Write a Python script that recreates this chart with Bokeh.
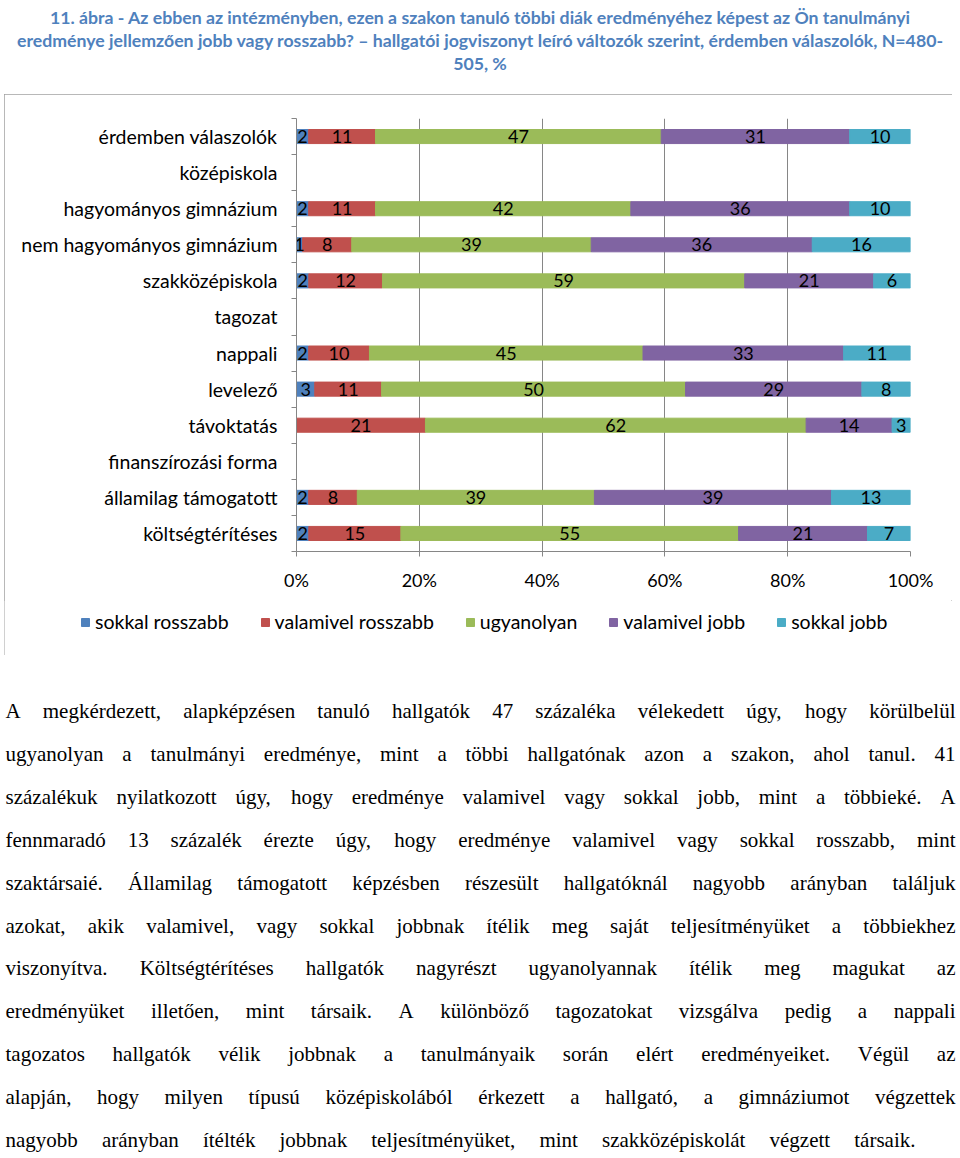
import unicodedata
from bokeh.plotting import figure
from bokeh.models import (ColumnDataSource, FixedTicker, NumeralTickFormatter, Legend,
                          LegendItem, Range1d, Div)
from bokeh.layouts import column
from bokeh.core.properties import value
from bokeh.embed import file_html
from bokeh.resources import INLINE

title_lines = [
    "11. ábra - Az ebben az intézményben, ezen a szakon tanuló többi diák eredményéhez képest az Ön tanulmányi",
    "eredménye jellemzően jobb vagy rosszabb? – hallgatói jogviszonyt leíró változók szerint, érdemben válaszolók, N=480-",
    "505, %",
]

categories = ["érdemben válaszolók", "középiskola", "hagyományos gimnázium",
              "nem hagyományos gimnázium", "szakközépiskola", "tagozat", "nappali",
              "levelező", "távoktatás", "finanszírozási forma", "államilag támogatott",
              "költségtérítéses"]
series = ["sokkal rosszabb", "valamivel rosszabb", "ugyanolyan", "valamivel jobb", "sokkal jobb"]
sokkal_rosszabb = [2, 0, 2, 1, 2, 0, 2, 3, 0, 0, 2, 2]
valamivel_rosszabb = [11, 0, 11, 8, 12, 0, 10, 11, 21, 0, 8, 15]
ugyanolyan = [47, 0, 42, 39, 59, 0, 45, 50, 62, 0, 39, 55]
valamivel_jobb = [31, 0, 36, 36, 21, 0, 33, 29, 14, 0, 39, 21]
sokkal_jobb = [10, 0, 10, 16, 6, 0, 11, 8, 3, 0, 13, 7]
colors = ["#4F81BD", "#C0504D", "#9BBB59", "#8064A2", "#4BACC6"]
x_ticks = [0, 0.2, 0.4, 0.6, 0.8, 1.0]

paragraph_lines = [
    "A megkérdezett, alapképzésen tanuló hallgatók 47 százaléka vélekedett úgy, hogy körülbelül",
    "ugyanolyan a tanulmányi eredménye, mint a többi hallgatónak azon a szakon, ahol tanul. 41",
    "százalékuk nyilatkozott úgy, hogy eredménye valamivel vagy sokkal jobb, mint a többieké. A",
    "fennmaradó 13 százalék érezte úgy, hogy eredménye valamivel vagy sokkal rosszabb, mint",
    "szaktársaié. Államilag támogatott képzésben részesült hallgatóknál nagyobb arányban találjuk",
    "azokat, akik valamivel, vagy sokkal jobbnak ítélik meg saját teljesítményüket a többiekhez",
    "viszonyítva. Költségtérítéses hallgatók nagyrészt ugyanolyannak ítélik meg magukat az",
    "eredményüket illetően, mint társaik. A különböző tagozatokat vizsgálva pedig a nappali",
    "tagozatos hallgatók vélik jobbnak a tanulmányaik során elért eredményeiket. Végül az",
    "alapján, hogy milyen típusú középiskolából érkezett a hallgató, a gimnáziumot végzettek",
    "nagyobb arányban ítélték jobbnak teljesítményüket, mint szakközépiskolát végzett társaik.",
]

FONT = "Lato"
FS = "18px"
LFS = "19.5px"
GRAY = "#868686"

all_series = [sokkal_rosszabb, valamivel_rosszabb, ugyanolyan, valamivel_jobb, sokkal_jobb]
n = len(categories)
totals = [sum(s[i] for s in all_series) for i in range(n)]
ys = [i + 0.5 for i in range(n)]
data = {"y": ys}
keys = []
for k, s in enumerate(all_series):
    key = f"s{k}"
    keys.append(key)
    data[key] = [(s[i] / totals[i]) if totals[i] else 0 for i in range(n)]
src = ColumnDataSource(data)

# label positions (segment centres)
lx, ly, lt = [], [], []
for i in range(n):
    cum = 0.0
    for k, s in enumerate(all_series):
        share = data[keys[k]][i]
        if s[i] > 0:
            lx.append(cum + share / 2)
            ly.append(ys[i])
            lt.append(str(s[i]))
        cum += share
lsrc = ColumnDataSource(dict(x=lx, y=ly, t=lt))

# ---- chart figure
p = figure(width=948, height=506, x_range=Range1d(0, 1), y_range=Range1d(n, 0),
           output_backend="svg", toolbar_location=None,
           min_border_left=292, min_border_right=42, min_border_top=24, min_border_bottom=49)
p.frame_align = False
p.outline_line_color = None

rs = p.hbar_stack(keys, y="y", height=0.39, color=colors, source=src)

p.text(x="x", y="y", text="t", source=lsrc, text_align="center", text_baseline="middle",
       text_font=value(FONT), text_font_size=FS, text_color="#000000")

p.xaxis.ticker = FixedTicker(ticks=x_ticks)
p.xaxis.formatter = NumeralTickFormatter(format="0%")
p.xaxis.axis_line_color = GRAY
p.xaxis.major_tick_line_color = GRAY
p.xaxis.major_tick_out = 5
p.xaxis.major_tick_in = 0
p.xaxis.minor_tick_line_color = None
p.xaxis.major_label_standoff = 12
p.xaxis.major_label_text_font = FONT
p.xaxis.major_label_text_font_size = FS
p.xaxis.major_label_text_color = "#000000"

p.xgrid.ticker = FixedTicker(ticks=x_ticks)
p.xgrid.grid_line_color = GRAY
p.ygrid.visible = False

p.yaxis.ticker = FixedTicker(ticks=ys, minor_ticks=list(range(n + 1)))
p.yaxis.major_label_overrides = {y: c for y, c in zip(ys, categories)}
p.yaxis.axis_line_color = GRAY
p.yaxis.major_tick_out = 0
p.yaxis.major_tick_in = 0
p.yaxis.minor_tick_out = 5
p.yaxis.minor_tick_in = 0
p.yaxis.minor_tick_line_color = GRAY
p.yaxis.major_label_standoff = 14
p.yaxis.major_label_text_font = FONT
p.yaxis.major_label_text_font_size = LFS
p.yaxis.major_label_text_color = "#000000"

# ---- legend strip (bottom part of the same chart box)
p2 = figure(width=948, height=55, x_range=Range1d(0, 1), y_range=Range1d(0, 1),
            output_backend="svg", toolbar_location=None,
            x_axis_location=None, y_axis_location=None,
            min_border_left=0, min_border_right=0, min_border_top=0, min_border_bottom=0)
p2.frame_align = False
p2.outline_line_color = None
p2.xgrid.visible = False
p2.ygrid.visible = False
# legend swatches only: these bars lie outside the visible range
dummies = [p2.hbar(y=[-5], right=[1], height=0.5, color=c) for c in colors]
legend = Legend(items=[LegendItem(label=s, renderers=[r]) for s, r in zip(series, dummies)],
                orientation="horizontal", location=(76, 22),
                glyph_width=10, glyph_height=10, label_standoff=5, spacing=31,
                padding=0, margin=0, border_line_color=None, background_fill_alpha=0,
                label_text_font=FONT, label_text_font_size=LFS, label_text_color="#000000")
p2.add_layout(legend, "center")

inner = column(p, p2, spacing=0)
chart_box = column(inner, spacing=0, margin=(0, 0, 0, 4),
                   styles={"outline": "1px solid #a0a0a0", "outline-offset": "-1px"})

title_html = ('<div style="width:950px;text-align:center;font-family:Lato;font-weight:bold;'
              'font-size:17.7px;line-height:23px;color:#4F81BD;white-space:nowrap;margin-top:1px">'
              + "<br>".join(title_lines) + "</div>")
title_div = Div(text=title_html, width=950, height=84)

# ---- justified paragraph drawn as SVG text (Times metrics for word widths)
PFS = 21.0
UP = dict(A=722, B=667, C=667, D=722, E=611, F=556, G=722, H=722, I=333, J=389, K=722, L=611,
          M=889, N=722, O=722, P=556, Q=722, R=667, S=556, T=611, U=722, V=722, W=944, X=722,
          Y=722, Z=611)
LO = dict(a=444, b=500, c=444, d=500, e=444, f=333, g=500, h=500, i=278, j=278, k=500, l=278,
          m=778, n=500, o=500, p=500, q=500, r=333, s=389, t=278, u=500, v=500, w=722, x=500,
          y=500, z=444)
PUN = {" ": 250, ",": 250, ".": 250, "-": 333, "?": 444, "%": 833, "–": 500, "=": 564}


def char_w(ch):
    base = unicodedata.normalize("NFD", ch)[0]
    if base in UP:
        return UP[base]
    if base in LO:
        return LO[base]
    if base.isdigit():
        return 500
    return PUN.get(base, 500)


def word_w(w):
    return sum(char_w(c) for c in w) * PFS / 1000.0


LEFT, RIGHT, LAST_RIGHT = 5.0, 955.0, 915.0
TOP_LINE, LINE_GAP = 709.5, 42.9
wx, wy, wt = [], [], []     # left-aligned words
rx, ry, rt = [], [], []     # right-aligned last word of each line
for j, line in enumerate(paragraph_lines):
    words = line.split(" ")
    widths = [word_w(w) for w in words]
    yline = TOP_LINE + j * LINE_GAP
    right = LAST_RIGHT if j == len(paragraph_lines) - 1 else RIGHT
    gap = (right - LEFT - sum(widths)) / (len(words) - 1)
    x = LEFT
    for k, (w, ww) in enumerate(zip(words, widths)):
        if k == len(words) - 1:
            rx.append(right)
            ry.append(yline)
            rt.append(w)
        else:
            wx.append(x)
            wy.append(yline)
            wt.append(w)
        x += ww + gap
psrc = ColumnDataSource(dict(x=wx, y=wy, t=wt))
rsrc = ColumnDataSource(dict(x=rx, y=ry, t=rt))

pp = figure(width=960, height=500, x_range=Range1d(0, 960), y_range=Range1d(1154, 654),
            output_backend="svg", toolbar_location=None,
            x_axis_location=None, y_axis_location=None,
            min_border_left=0, min_border_right=0, min_border_top=0, min_border_bottom=0)
pp.frame_align = False
pp.outline_line_color = None
pp.xgrid.visible = False
pp.ygrid.visible = False
PFONT = value("Liberation Serif")
pp.text(x="x", y="y", text="t", source=psrc, text_align="left", text_baseline="middle",
        text_font=PFONT, text_font_size=f"{PFS}px", text_color="#000000")
pp.text(x="x", y="y", text="t", source=rsrc, text_align="right", text_baseline="middle",
        text_font=PFONT, text_font_size=f"{PFS}px", text_color="#000000")

layout = column(title_div, chart_box, pp, spacing=0)
open("out.html", "w").write(file_html(layout, INLINE))
